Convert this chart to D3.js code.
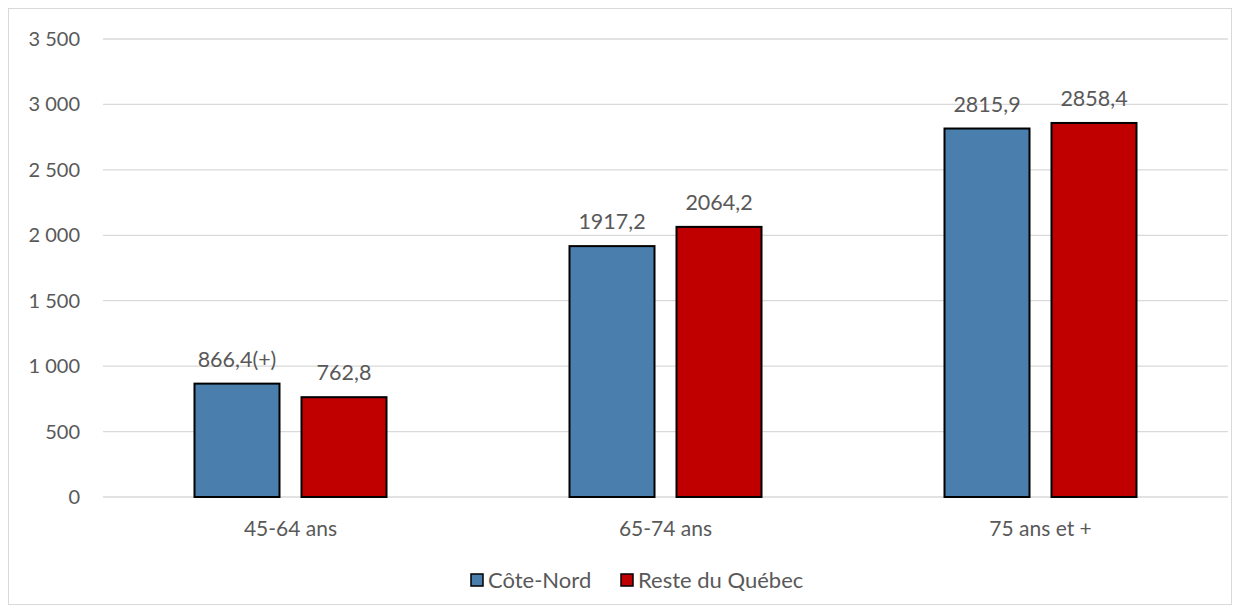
<!DOCTYPE html>
<meta charset="utf-8">
<style>
body { margin: 0; background: #fff; }
text { font-family: Lato, "Open Sans", sans-serif; fill: #595959; }
.grid line { stroke: #d9d9d9; stroke-width: 1.3px; }
.bar { stroke: #000; stroke-width: 2px; }
</style>
<body>
<script src="https://cdn.jsdelivr.net/npm/d3@7"></script>
<script>

var categories = ["45-64 ans", "65-74 ans", "75 ans et +"];
var series = ["Côte-Nord", "Reste du Québec"];
var coteNord = [866.4, 1917.2, 2815.9];
var resteQuebec = [762.8, 2064.2, 2858.4];
var valueLabels = [["866,4(+)", "1917,2", "2815,9"], ["762,8", "2064,2", "2858,4"]];
var yTicks = [0, 500, 1000, 1500, 2000, 2500, 3000, 3500];
var colors = ["#4a7ead", "#c00000"];

var width = 1241, height = 613;
var svg = d3.select("body").append("svg")
    .attr("width", width)
    .attr("height", height);

// chart frame
svg.append("rect")
    .attr("x", 8.5).attr("y", 8.5)
    .attr("width", 1223).attr("height", 596)
    .attr("fill", "#fff")
    .attr("stroke", "#d9d9d9")
    .attr("stroke-width", 1);

var x = d3.scaleBand().domain(categories).range([103, 1228]);
var y = d3.scaleLinear().domain([0, 3500]).range([497, 39]);

var fmt = function(d) { return d3.format(",")(d).replace(/,/g, " "); };

var grid = svg.append("g").attr("class", "grid");
grid.selectAll("line").data(yTicks).enter().append("line")
    .attr("x1", 103).attr("x2", 1228)
    .attr("y1", function(d) { return y(d); })
    .attr("y2", function(d) { return y(d); });

svg.append("g").selectAll("text").data(yTicks).enter().append("text")
    .attr("x", 80)
    .attr("y", function(d) { return y(d); })
    .attr("dy", "0.35em")
    .attr("text-anchor", "end")
    .style("font-size", "20px")
    .text(fmt);

var barW = 85, gap = 22;
var data = [coteNord, resteQuebec];

data.forEach(function(vals, s) {
  var g = svg.append("g");
  g.selectAll("rect").data(vals).enter().append("rect")
      .attr("class", "bar")
      .attr("fill", colors[s])
      .attr("x", function(d, i) {
        var c = x(categories[i]) + x.bandwidth() / 2;
        return s === 0 ? c - gap / 2 - barW : c + gap / 2;
      })
      .attr("y", function(d) { return y(d); })
      .attr("width", barW)
      .attr("height", function(d) { return y(0) - y(d); });

  g.selectAll("text").data(vals).enter().append("text")
      .attr("x", function(d, i) {
        var c = x(categories[i]) + x.bandwidth() / 2;
        return s === 0 ? c - gap / 2 - barW / 2 : c + gap / 2 + barW / 2;
      })
      .attr("y", function(d) { return y(d) - 17; })
      .attr("text-anchor", "middle")
      .style("font-size", "21.5px")
      .text(function(d, i) { return valueLabels[s][i]; });
});

svg.append("g").selectAll("text").data(categories).enter().append("text")
    .attr("x", function(d) { return x(d) + x.bandwidth() / 2; })
    .attr("y", 536)
    .attr("text-anchor", "middle")
    .style("font-size", "21px")
    .text(function(d) { return d; });

// legend
var legendX = [471, 621];
var legend = svg.append("g").selectAll("g").data(series).enter().append("g")
    .attr("transform", function(d, i) { return "translate(" + legendX[i] + ",574)"; });
legend.append("rect")
    .attr("width", 12).attr("height", 12)
    .attr("fill", function(d, i) { return colors[i]; })
    .attr("stroke", "#000").attr("stroke-width", 1.5);
legend.append("text")
    .attr("x", 17).attr("y", 6)
    .attr("dy", "0.35em")
    .style("font-size", "22px")
    .text(function(d) { return d; });

</script>
</body>
